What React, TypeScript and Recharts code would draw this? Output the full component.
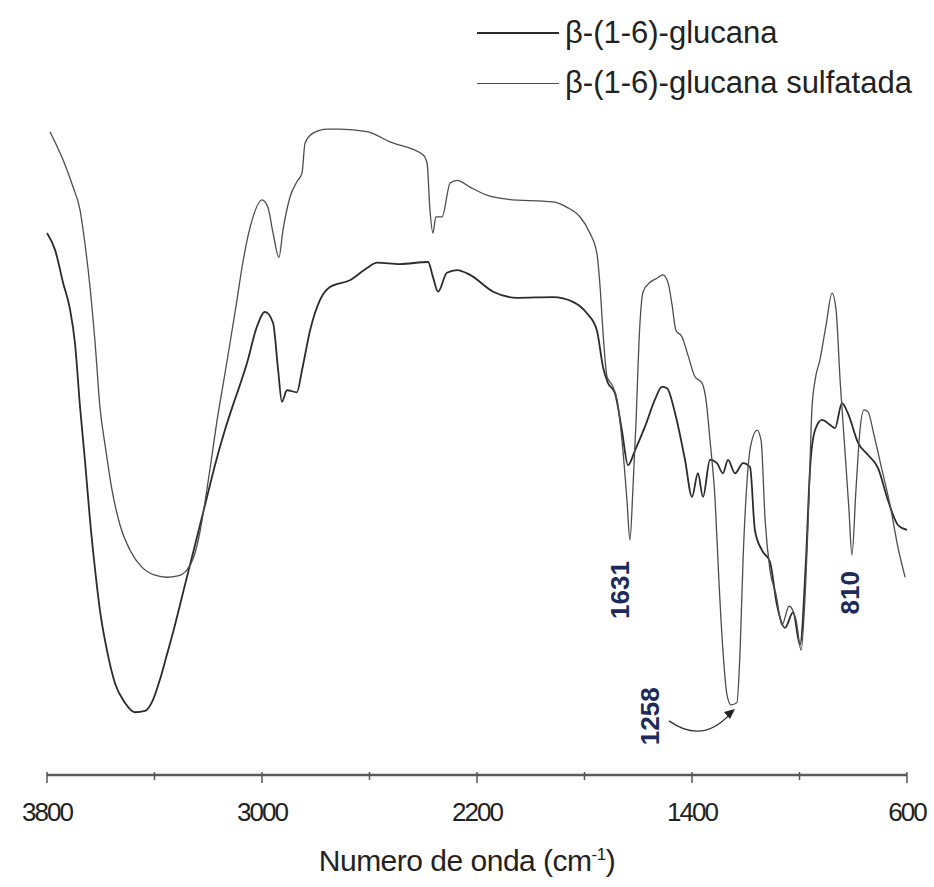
import { LineChart, Line, XAxis, YAxis, Legend, ReferenceDot } from "recharts";

// wavenumber (cm-1) and transmittance (a.u.)
const glucanaWn = [
  3800, 3770, 3740, 3714, 3696, 3677, 3659, 3640, 3621, 3603, 3577, 3547, 3510, 3473, 3435, 3406,
  3380, 3354, 3324, 3287, 3249, 3212, 3175, 3138, 3108, 3082, 3056, 3019, 2989, 2959, 2940, 2926,
  2907, 2870, 2851, 2821, 2784, 2747, 2673, 2609, 2572, 2487, 2382, 2364, 2345, 2312, 2274, 2226,
  2140, 2051, 1917, 1843, 1791, 1754, 1731, 1713, 1687, 1661, 1638, 1612, 1575, 1538, 1512, 1493,
  1463, 1426, 1400, 1378, 1359, 1333, 1307, 1285, 1266, 1240, 1210, 1184, 1166, 1140, 1110, 1084,
  1054, 1024, 998, 976, 961, 942, 916, 887, 868, 842, 820, 782, 745, 708, 671, 633, 600,
];
const glucanaT = [
  80.3, 77.8, 72.9, 68.9, 64, 54.5, 46.7, 37.8, 30.4, 24.4, 18.5, 13.6, 10.7, 9.3, 9.5, 11.1,
  14.1, 17.8, 22.2, 28.1, 34.1, 40, 45.9, 51.1, 54.8, 57.8, 61, 66.4, 68.6, 67, 60, 55.3,
  57, 56.7, 60, 65.9, 70.4, 72.3, 73.3, 75.1, 75.9, 75.7, 76, 73.8, 71.6, 74.4, 74.8, 74.1,
  71.6, 70.7, 70.8, 70.1, 68.4, 65.9, 60.4, 58.1, 56.6, 51.1, 45.9, 48.1, 51.6, 55.6, 57.5, 57.3,
  53.6, 46.7, 41.2, 44.7, 41.2, 46.7, 46.2, 44.7, 46.7, 44.7, 46.2, 45.6, 36.3, 33.3, 31.6, 25.2,
  21.8, 24.1, 19.3, 31.9, 45.2, 51.1, 52.6, 51.9, 51.4, 55.1, 53.6, 49.2, 47.4, 45.5, 40.7, 37, 36.3,
];

const sulfatadaWn = [
  3789, 3740, 3703, 3677, 3659, 3640, 3621, 3603, 3584, 3558, 3528, 3491, 3447, 3398, 3354, 3313,
  3279, 3253, 3231, 3208, 3186, 3167, 3145, 3119, 3093, 3071, 3037, 3000, 2978, 2959, 2937, 2922,
  2896, 2870, 2851, 2840, 2810, 2758, 2710, 2609, 2524, 2401, 2386, 2375, 2364, 2353, 2330, 2300,
  2274, 2226, 2163, 2088, 1917, 1865, 1817, 1780, 1754, 1742, 1731, 1716, 1698, 1679, 1657, 1642,
  1631, 1620, 1608, 1597, 1582, 1556, 1530, 1508, 1489, 1474, 1460, 1437, 1415, 1389, 1363, 1348,
  1333, 1314, 1300, 1285, 1270, 1255, 1233, 1221, 1210, 1195, 1181, 1158, 1143, 1128, 1110, 1087,
  1065, 1039, 1013, 994, 980, 965, 954, 942, 924, 901, 879, 864, 849, 831, 816, 805,
  790, 775, 760, 745, 723, 693, 663, 633, 607,
];
const sulfatadaT = [
  95.3, 91.1, 87.1, 83.7, 78.8, 72.3, 64, 54.5, 48.9, 42.2, 37, 33.3, 30.8, 29.6, 29.3, 29.5,
  30.4, 32.4, 36, 41.5, 47.4, 52.6, 57.8, 64, 70.4, 76, 82.2, 85.2, 84.1, 80.3, 76.7, 80.7,
  85.6, 87.9, 89.2, 93.6, 95.1, 95.7, 95.7, 95.3, 93.8, 91.9, 90.7, 83.7, 80.3, 82.7, 82.7, 87.7,
  88.1, 87.1, 85.9, 85.3, 84.9, 84.1, 82.7, 80.3, 77.3, 72.3, 65.5, 59, 57.8, 55.6, 48.1, 40.7,
  34.8, 42.2, 52.6, 64.4, 71.6, 73, 73.6, 74.1, 72.9, 69.6, 65.9, 64.9, 62.2, 59, 58.1, 55.6,
  49.6, 40.7, 28.9, 18.5, 11.9, 10.4, 10.7, 18.5, 31.9, 43.7, 48.9, 51.1, 49.6, 37.8, 30.4, 26.7,
  22.2, 25, 23, 18.5, 25.9, 40.7, 54.1, 58.5, 61.5, 66.7, 71.4, 68.9, 58.5, 48.1, 39.3, 32.6,
  42.2, 51.1, 54.1, 53.8, 50.4, 45.2, 40, 33.6, 29.3,
];

const axisTicks = [3800, 3400, 3000, 2600, 2200, 1800, 1400, 1000, 600];
const labelledTicks = [3800, 3000, 2200, 1400, 600];

const bandLabels = [
  { wn: 1668, t: 27.4, text: "1631" },
  { wn: 812, t: 27, text: "810" },
  { wn: 1556, t: 8.7, text: "1258" },
];
const arrowTip = { wn: 1240, t: 9.5 };

const glucanaData = glucanaWn.map((wn, i) => ({ wn, t: glucanaT[i] }));
const sulfatadaData = sulfatadaWn.map((wn, i) => ({ wn, t: sulfatadaT[i] }));

const FONT = '"Liberation Sans", Arial, sans-serif';
const lineStyle: Record<string, { stroke: string; width: number }> = {
  "β-(1-6)-glucana": { stroke: "#2b2b2b", width: 1.8 },
  "β-(1-6)-glucana sulfatada": { stroke: "#4d4d4d", width: 1.3 },
};

function WnTick({ x, y, payload }: any) {
  const major = labelledTicks.includes(payload.value);
  return (
    <g>
      <line x1={x} x2={x} y1={y - 3} y2={y + (major ? 8 : 5)} stroke="#555" strokeWidth={1.5} />
      {major && (
        <text x={x} y={y + 46} textAnchor="middle" fontSize={26} fill="#222" fontFamily={FONT} letterSpacing={-2}>
          {payload.value}
        </text>
      )}
    </g>
  );
}

function AxisTitle({ viewBox }: any) {
  const cx = viewBox.x + viewBox.width / 2 - 10;
  return (
    <text x={cx} y={viewBox.y + 96} textAnchor="middle" fontSize={30} fill="#222" fontFamily={FONT} letterSpacing={-0.5}>
      Numero de onda (cm
      <tspan dy={-11} fontSize={17}>-1</tspan>
      <tspan dy={11}>)</tspan>
    </text>
  );
}

function renderLegend({ payload }: any) {
  return (
    <div style={{ fontFamily: FONT }}>
      {(payload || []).map((entry: any) => {
        const s = lineStyle[entry.value];
        return (
          <div key={entry.value} style={{ display: "flex", alignItems: "center", height: 50 }}>
            <div style={{ width: 82, height: 0, borderTop: `${s.width + 0.6}px solid ${s.stroke}` }} />
            <span style={{ marginLeft: 6, fontSize: 31, color: "#222", letterSpacing: 0 }}>{entry.value}</span>
          </div>
        );
      })}
    </div>
  );
}

function BandLabel({ cx, cy, text }: any) {
  return (
    <text
      x={cx}
      y={cy}
      transform={`rotate(-90 ${cx} ${cy})`}
      textAnchor="middle"
      dominantBaseline="central"
      fontSize={26}
      fontWeight="bold"
      fill="#1d2a5b"
      fontFamily={FONT}
    >
      {text}
    </text>
  );
}

function CurvedArrow({ cx, cy }: any) {
  return (
    <g>
      <path d={`M ${cx - 66} ${cy + 10} Q ${cx - 32} ${cy + 34} ${cx - 4} ${cy + 2}`} fill="none" stroke="#333" strokeWidth={1.3} />
      <polygon points={`${cx},${cy - 2} ${cx - 11},${cy + 1} ${cx - 5},${cy + 8}`} fill="#222" />
    </g>
  );
}

export default function App() {
  return (
    <div style={{ position: "absolute", left: 0, top: 0, width: 934, height: 887, background: "#fff" }}>
      <LineChart width={934} height={887} margin={{ top: 100, right: 27, bottom: 0, left: 47 }}>
        <XAxis
          type="number"
          dataKey="wn"
          domain={[600, 3800]}
          reversed
          ticks={axisTicks}
          interval={0}
          height={112}
          tickSize={0}
          tickMargin={0}
          tickLine={false}
          axisLine={{ stroke: "#5a5a5a", strokeWidth: 2.5 }}
          tick={<WnTick />}
          label={(props: any) => <AxisTitle {...props} />}
        />
        <YAxis hide type="number" domain={[0, 100]} />
        <Legend
          layout="horizontal"
          verticalAlign="middle"
          align="center"
          wrapperStyle={{ top: 8, left: 477, width: 457 }}
          content={renderLegend}
        />
        <Line
          data={glucanaData}
          dataKey="t"
          name="β-(1-6)-glucana"
          type="monotone"
          stroke={lineStyle["β-(1-6)-glucana"].stroke}
          strokeWidth={lineStyle["β-(1-6)-glucana"].width}
          dot={false}
          isAnimationActive={false}
        />
        <Line
          data={sulfatadaData}
          dataKey="t"
          name="β-(1-6)-glucana sulfatada"
          type="monotone"
          stroke={lineStyle["β-(1-6)-glucana sulfatada"].stroke}
          strokeWidth={lineStyle["β-(1-6)-glucana sulfatada"].width}
          dot={false}
          isAnimationActive={false}
        />
        {bandLabels.map((b) => (
          <ReferenceDot
            key={b.text}
            x={b.wn}
            y={b.t}
            r={0}
            ifOverflow="visible"
            shape={(p: any) => <BandLabel {...p} text={b.text} />}
          />
        ))}
        <ReferenceDot
          x={arrowTip.wn}
          y={arrowTip.t}
          r={0}
          ifOverflow="visible"
          shape={(p: any) => <CurvedArrow {...p} />}
        />
      </LineChart>
    </div>
  );
}
